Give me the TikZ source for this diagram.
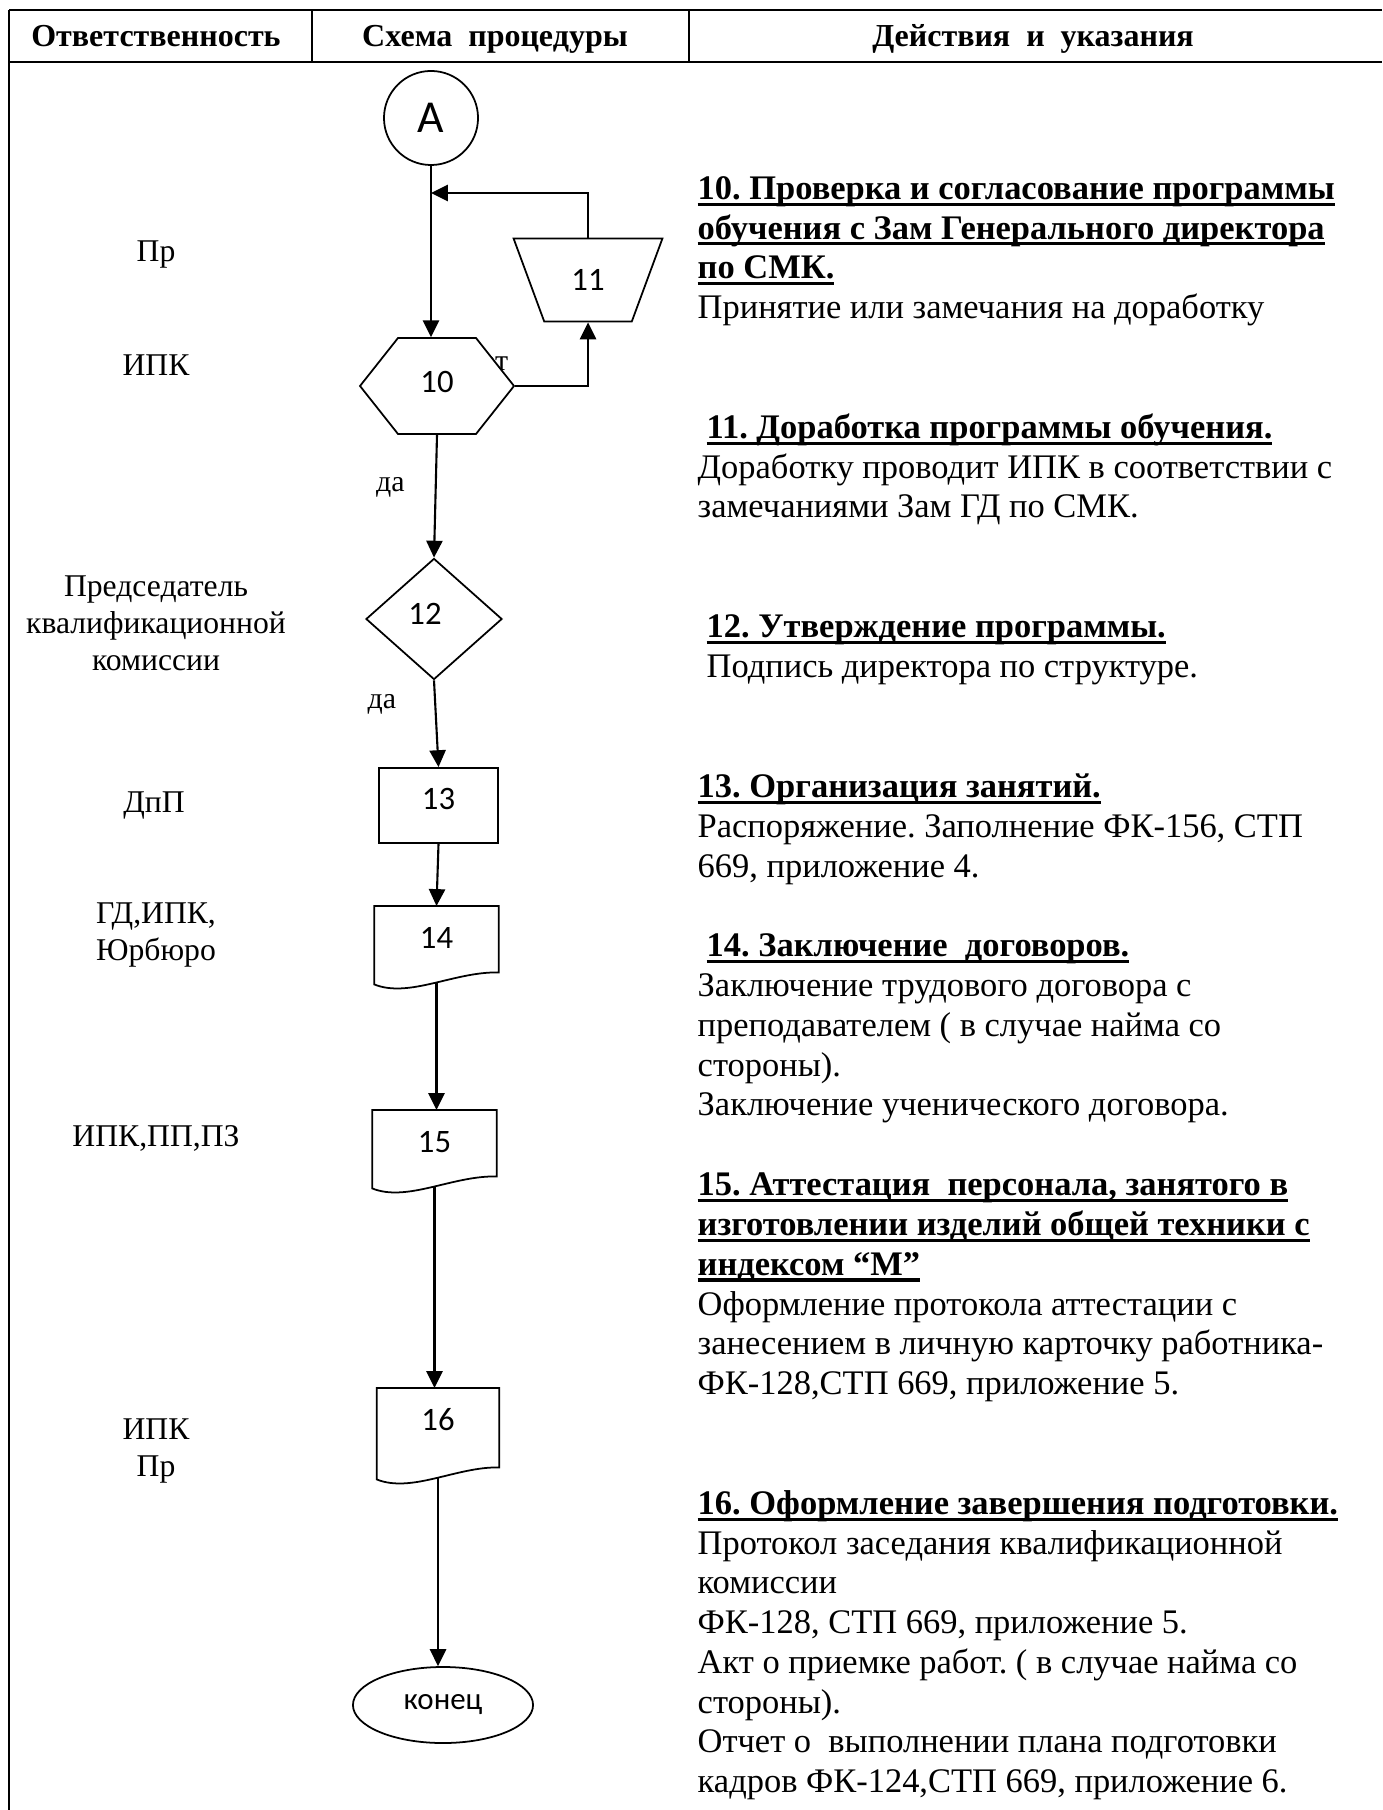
\documentclass[tikz,border=0pt]{standalone}
\usepackage{fontspec}
\setmainfont{Liberation Serif}
\newfontfamily\numfont{Carlito}
\usetikzlibrary{shapes.geometric,calc,arrows.meta}
\frenchspacing

% underline as in the reference (thick rule)
\newcommand{\ulin}[1]{\setbox0=\hbox{#1}\rlap{\rule[-1.8pt]{\wd0}{0.9pt}}\box0}
% document symbol: outline with a wavy bottom, and the point under the wave
\newcommand{\docwave}[2][0]{%
  \draw[shapebox] (#2.north west) -- (#2.north east) -- ($(#2.south east)+(0,3+#1)$)
    .. controls ($(#2.south west)+(80,2+#1)$) and ($(#2.south west)+(35,29+#1)$) .. ($(#2.south west)+(0,15+#1)$) -- cycle;
  \coordinate (#2-w) at ($(#2.south)+(0,13+#1)$);}

\begin{document}
\begin{tikzpicture}[x=0.01cm,y=-0.01cm,
  shapebox/.style={draw,line width=0.5pt},
  arr/.style={line width=0.6pt,-{Triangle[length=4.8pt,width=4.6pt]}},
  num/.style={font=\numfont\fontsize{9.3}{11}\selectfont},
  resp/.style={align=center,font=\fontsize{9}{10.5}\selectfont},
  txt/.style={align=left,anchor=base west,inner sep=0pt,font=\fontsize{9.8}{11.3}\selectfont},
  head/.style={anchor=base,inner sep=0pt,font=\bfseries\fontsize{9.1}{11}\selectfont},
  yes/.style={inner sep=0pt,font=\fontsize{8.5}{10}\selectfont}]
\useasboundingbox (0,0) rectangle (1382,1810);

% table
\draw[line width=0.8pt] (9,10) -- (1382,10);
\draw[line width=0.4pt] (9,62) -- (1382,62);
\draw[line width=0.4pt] (9,10) -- (9,62) (312,10) -- (312,62) (689,10) -- (689,62);
\draw[line width=0.7pt] (9,62) -- (9,1810);

\node[head] (h1) at (156,47) {Ответственность};
\node[head] (h2) at (495,47) {Схема~ процедуры};
\node[head] (h3) at (1033,47) {Действия~ и~ указания};

% responsibility
\node[resp] (r1) at (156,255) {Пр};
\node[resp] (r2) at (156,365) {ИПК};
\node[resp] (r3) at (156,623) {Председатель\\квалификационной\\комиссии};
\node[resp] (r4) at (154,806) {ДпП};
\node[resp] (r5) at (156,935) {ГД,ИПК,\\Юрбюро};
\node[resp] (r6) at (156,1138) {ИПК,ПП,ПЗ};
\node[resp] (r7) at (156,1451) {ИПК\\Пр};

% scheme
\node[shapebox,circle,minimum size=0.94cm,inner sep=0pt,font=\numfont\fontsize{13}{15}\selectfont] (A) at (431,118) {A};
\node[yes,anchor=base east] (net) at (509,371) {нет};
\coordinate (c10) at (437,386);
\draw[shapebox,fill=white] ($(c10)+(-77,0)$) -- ($(c10)+(-39,-48)$) -- ($(c10)+(39,-48)$) -- ($(c10)+(77,0)$)
  -- ($(c10)+(39,48)$) -- ($(c10)+(-39,48)$) -- cycle;
\node[num,minimum width=1.54cm,minimum height=0.96cm,text depth=0.08cm] (n10) at (c10) {10};
\node[shapebox,num,trapezium,trapezium left angle=66,trapezium right angle=66,shape border rotate=180,
  trapezium stretches=true,minimum width=1.49cm,minimum height=0.83cm] (t11) at (588,280) {11};
\node[shapebox,num,diamond,minimum width=1.36cm,minimum height=1.21cm,inner sep=0pt,text depth=0.1cm] (d12) at (434,619) {12\rule{0.18cm}{0pt}};
\node[shapebox,num,minimum width=1.19cm,minimum height=0.75cm,text depth=0.13cm] (r13) at (438.5,805.5) {13};
\node[num,minimum width=1.23cm,minimum height=0.62cm,anchor=north] (d14) at (436.5,906) {14};
\docwave{d14}
\node[num,minimum width=1.23cm,minimum height=0.62cm,anchor=north] (d15) at (434.5,1110) {15};
\docwave{d15}
\node[num,minimum width=1.21cm,minimum height=0.62cm,anchor=north] (d16) at (438,1388) {16};
\docwave[13]{d16}
\node[shapebox,ellipse,minimum width=1.8cm,minimum height=0.76cm,font=\numfont\fontsize{8.8}{10}\selectfont] (fin) at (443,1705) {конец};

\coordinate (j11) at (431,193);
\draw[arr] (A) -- (A |- n10.north);
\draw[arr] (n10.east) -| (t11.south);
\draw[arr] (t11.north) |- (j11);
\draw[arr] (n10.south) -- (d12.north) node[yes,pos=0.43,left=0.3cm] (yes1) {да};
\draw[arr] (d12.south) -- (r13.north) node[yes,pos=0.28,left=0.38cm] (yes2) {да};
\draw[arr] (r13.south) -- (d14.north);
\draw[arr] (d14-w) -- (d14-w |- d15.north);
\draw[arr] (d15-w) -- (d15-w |- d16.north);
\draw[arr] (d16-w) -- (d16-w |- fin.north);

% actions (anchored at the baseline of the last line)
\node[txt] (a10) at (697,318.6) {\ulin{\textbf{10. Проверка и согласование программы}}\\
  \ulin{\textbf{обучения с Зам Генерального директора}}\\
  \ulin{\textbf{по СМК.}}\\
  Принятие или замечания на доработку};
\node[txt] (a11) at (697,517.9) {\hspace*{0.09cm}\ulin{\textbf{11. Доработка программы обучения.}}\\
  Доработку проводит ИПК в соответствии с\\
  замечаниями Зам ГД по СМК.};
\node[txt] (a12) at (697,677.7) {\hspace*{0.09cm}\ulin{\textbf{12. Утверждение программы.}}\\
  \hspace*{0.09cm}Подпись директора по структуре.};
\node[txt] (a13) at (697,877) {\ulin{\textbf{13. Организация занятий.}}\\
  Распоряжение. Заполнение ФК-156, СТП\\
  669, приложение 4.};
\node[txt] (a14) at (697,1115.8) {\hspace*{0.09cm}\ulin{\textbf{14. Заключение~ договоров.}}\\
  Заключение трудового договора с\\
  преподавателем ( в случае найма со\\
  стороны).\\
  Заключение ученического договора.};
\node[txt] (a15) at (697,1394.5) {\ulin{\textbf{15. Аттестация~ персонала, занятого в}}\\
  \ulin{\textbf{изготовлении изделий общей техники с}}\\
  \ulin{\textbf{индексом “М”}}\\
  Оформление протокола аттестации с\\
  занесением в личную карточку работника-\\
  ФК-128,СТП 669, приложение 5.};
\node[txt] (a16) at (697,1792.5) {\ulin{\textbf{16. Оформление завершения подготовки.}}\\
  Протокол заседания квалификационной\\
  комиссии\\
  ФК-128, СТП 669, приложение 5.\\
  Акт о приемке работ. ( в случае найма со\\
  стороны).\\
  Отчет о~ выполнении плана подготовки\\
  кадров ФК-124,СТП 669, приложение 6.};
\end{tikzpicture}
\end{document}
